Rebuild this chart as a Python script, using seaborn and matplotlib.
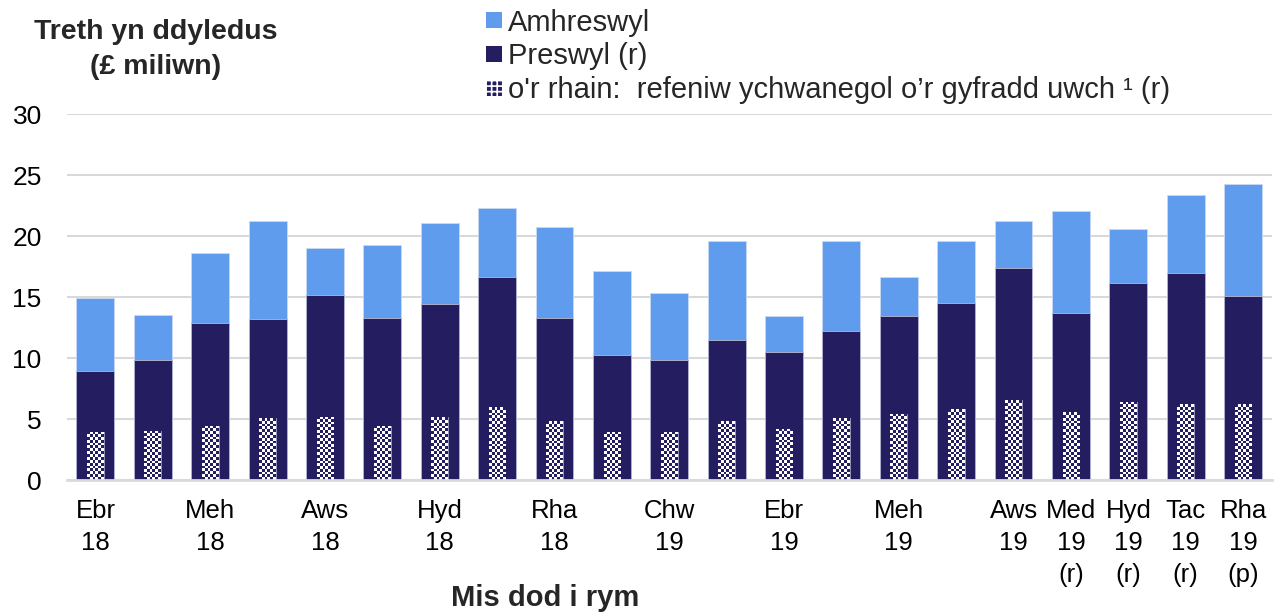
import matplotlib
matplotlib.use("Agg")
import matplotlib.pyplot as plt
from matplotlib.patches import Patch
from matplotlib.colors import ListedColormap
import seaborn as sns
import pandas as pd
import numpy as np

# ---- data ----
months = ["Ebr 18", "Mai 18", "Meh 18", "Gor 18", "Aws 18", "Med 18", "Hyd 18",
          "Tac 18", "Rha 18", "Ion 19", "Chw 19", "Maw 19", "Ebr 19", "Mai 19",
          "Meh 19", "Gor 19", "Aws 19", "Med 19", "Hyd 19", "Tac 19", "Rha 19"]
tick_labels = ["Ebr\n18", "", "Meh\n18", "", "Aws\n18", "", "Hyd\n18", "", "Rha\n18", "",
               "Chw\n19", "", "Ebr\n19", "", "Meh\n19", "", "Aws\n19",
               "Med\n19\n(r)", "Hyd\n19\n(r)", "Tac\n19\n(r)", "Rha\n19\n(p)"]
preswyl = [8.9, 9.85, 12.85, 13.2, 15.15, 13.3, 14.4, 16.65, 13.3, 10.25, 9.85,
           11.45, 10.5, 12.2, 13.45, 14.55, 17.35, 13.7, 16.15, 17.0, 15.05]
amhreswyl = [6.0, 3.7, 5.75, 8.0, 3.85, 5.95, 6.65, 5.65, 7.4, 6.85, 5.45,
             8.15, 2.95, 7.4, 3.2, 5.05, 3.85, 8.35, 4.45, 6.4, 9.25]
ychwanegol = [3.95, 4.05, 4.45, 5.05, 5.2, 4.45, 5.15, 5.95, 4.8, 3.95, 3.95,
              4.8, 4.2, 5.05, 5.45, 5.8, 6.55, 5.55, 6.4, 6.2, 6.2]

series_labels = ["Amhreswyl", "Preswyl (r)",
                 "o'r rhain:  refeniw ychwanegol o\u2019r gyfradd uwch \u00b9 (r)"]
y_title = "Treth yn ddyledus\n(\u00a3 miliwn)"
x_title = "Mis dod i rym"

LIGHT = "#5F9CEE"
NAVY = "#241E60"
GRID = "#D9D9D9"

df = pd.DataFrame({"mis": months, "preswyl": preswyl, "amhreswyl": amhreswyl,
                   "ychwanegol": ychwanegol})
df["cyfanswm"] = df["preswyl"] + df["amhreswyl"]

sns.set_theme(style="white")
plt.rcParams["font.family"] = ["Liberation Sans", "DejaVu Sans"]
plt.rcParams["hatch.linewidth"] = 1.2
plt.rcParams["hatch.color"] = "white"

fig = plt.figure(figsize=(12.76, 6.14), dpi=100)
ax = fig.add_axes([0.0523, 0.2182, 0.9444, 0.5961])

sns.barplot(data=df, x="mis", y="cyfanswm", color=LIGHT, saturation=1, width=0.66,
            edgecolor="#C8D8F4", linewidth=0.6, ax=ax, errorbar=None)
sns.barplot(data=df, x="mis", y="preswyl", color=NAVY, saturation=1, width=0.66,
            edgecolor="#B8B8D0", linewidth=0.6, ax=ax, errorbar=None)
sns.barplot(data=df, x="mis", y="ychwanegol", color=NAVY, saturation=1, width=0.29,
            edgecolor="#C0C0D8", linewidth=0.5, ax=ax, errorbar=None)

# checkerboard texture inside the "of which" bars
checker_cmap = ListedColormap([NAVY, "white"])
for bar in ax.containers[2].patches:
    x0, y0 = bar.get_x(), bar.get_y()
    w, h = bar.get_width(), bar.get_height()
    ncols = 6
    nrows = max(1, int(round(h * 4.35)))
    board = np.indices((nrows, ncols)).sum(axis=0) % 2
    im = ax.imshow(board, cmap=checker_cmap, extent=(x0, x0 + w, y0, y0 + h),
                   aspect="auto", interpolation="nearest", origin="lower",
                   zorder=bar.get_zorder() + 0.1)
    im.set_clip_path(bar)

ax.set_ylim(0, 30)
ax.set_xlim(-0.5, len(months) - 0.5)
ax.set_aspect("auto")
ax.set_yticks(np.arange(0, 31, 5))
ax.yaxis.grid(True, color=GRID, linewidth=1.5)
ax.set_axisbelow(True)
for s in ["top", "right", "left"]:
    ax.spines[s].set_visible(False)
ax.spines["bottom"].set_color(GRID)
ax.spines["bottom"].set_linewidth(2)

ax.set_xticks(range(len(months)))
ax.set_xticklabels(tick_labels, fontsize=18.5, linespacing=1.4, va="top")
ax.set_xticks(np.arange(-0.5, len(months), 1), minor=True)
ax.tick_params(axis="x", which="major", length=0, pad=14, colors="black")
ax.tick_params(axis="x", which="minor", length=8, width=2, color=GRID, direction="out")
ax.tick_params(axis="y", length=0, pad=18, labelsize=19, colors="black")
ax.set_xlabel("")
ax.set_ylabel("")

fig.text(0.1222, 0.919, y_title, ha="center", va="center", fontsize=20.5,
         fontweight="bold", multialignment="center", linespacing=1.45)
fig.text(0.427, 0.026, x_title, ha="center", va="center", fontsize=21,
         fontweight="bold")

handles = [Patch(facecolor=LIGHT, edgecolor="none"),
           Patch(facecolor=NAVY, edgecolor="none"),
           Patch(facecolor=NAVY, edgecolor="white", linewidth=0, hatch="+++")]
leg = fig.legend(handles, series_labels, loc="upper left",
                 bbox_to_anchor=(0.372, 1.005), frameon=False, fontsize=21,
                 handlelength=0.52, handleheight=0.48, handletextpad=0.21,
                 labelspacing=0.2, borderaxespad=0)

fig.savefig("out.png", dpi=100)
